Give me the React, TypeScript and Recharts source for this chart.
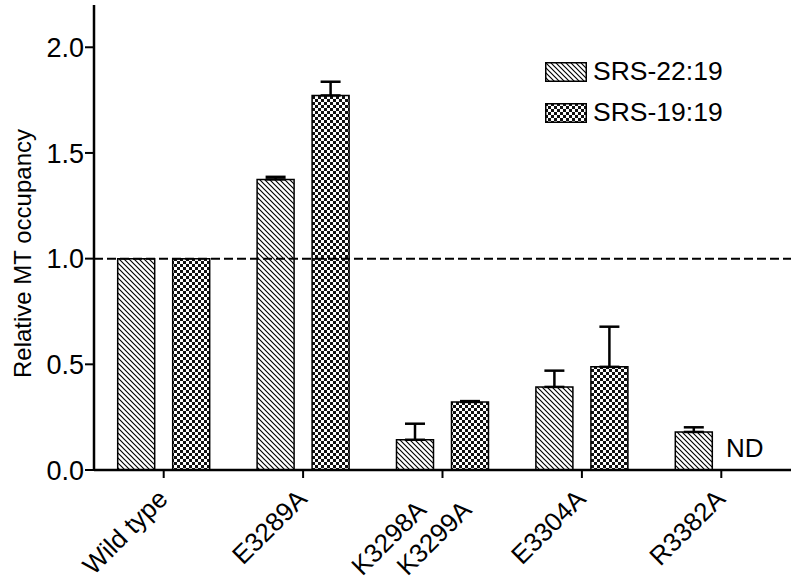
import React from 'react';
import { BarChart, Bar, XAxis, YAxis, ReferenceLine, ErrorBar, LabelList } from 'recharts';

const categories = ['Wild type', 'E3289A', 'K3298A\nK3299A', 'E3304A', 'R3382A'];
const srs2219 = [1.0, 1.375, 0.143, 0.393, 0.18];
const srs2219Err = [0, 0.012, 0.076, 0.077, 0.022];
const srs1919 = [1.0, 1.772, 0.322, 0.488, 0];
const srs1919Err = [0, 0.065, 0.004, 0.19, 0];
const notes = ['', '', '', '', 'ND'];
const yTicks = [0, 0.5, 1.0, 1.5, 2.0];
const seriesNames = ['SRS-22:19', 'SRS-19:19'];

const data = categories.map((c, i) => ({
  name: c,
  a: srs2219[i],
  aErr: srs2219Err[i] ? [0, srs2219Err[i]] : undefined,
  b: srs1919[i],
  bErr: srs1919Err[i] ? [0, srs1919Err[i]] : undefined,
  note: notes[i],
}));

const FONT = 'Liberation Sans, Arial, sans-serif';
const BAR_GAP = 18;

const Patterns = ({ prefix }: { prefix: string }) => (
  <defs>
    <pattern id={`${prefix}hatch`} patternUnits="userSpaceOnUse" width="5" height="5">
      <rect width="5" height="5" fill="#fff" />
      <path d="M-1,-1 L6,6 M-1,4 L1,6 M4,-1 L6,1" stroke="#000" strokeWidth="1.15" />
    </pattern>
    <pattern id={`${prefix}check`} patternUnits="userSpaceOnUse" width="6" height="6">
      <rect width="6" height="6" fill="#fff" />
      <rect x="0" y="0" width="3" height="3" fill="#111" />
      <rect x="3" y="3" width="3" height="3" fill="#111" />
    </pattern>
  </defs>
);

const XTick = (props: any) => {
  const { x, y, payload } = props;
  const lines = String(payload.value).split('\n');
  const n = lines.length;
  return (
    <g transform={`translate(${x - 1},${y + 14})`}>
      <text transform="rotate(-45)" textAnchor="end" fontFamily={FONT} fontSize={26} fill="#000">
        {lines.map((l, i) => {
          const k = n === 1 ? 0 : i - 0.5;
          return (
            <tspan key={i} x={k * 32 - (n === 1 ? 0 : 6)} y={k * 32 + (n === 1 ? 0 : 9.5)} dy="0.35em">{l}</tspan>
          );
        })}
      </text>
    </g>
  );
};

const YTitle = (props: any) => {
  const { viewBox } = props;
  const cx = viewBox.x + 22;
  const cy = viewBox.y + viewBox.height / 2 + 16;
  return (
    <text x={cx} y={cy} transform={`rotate(-90, ${cx}, ${cy})`} textAnchor="middle" dominantBaseline="central" fontFamily={FONT} fontSize={24} fill="#000">
      Relative MT occupancy
    </text>
  );
};

const LegendBox = () => (
  <div style={{ position: 'absolute', left: 545, top: 51, fontFamily: FONT, fontSize: 26.5, color: '#000' }}>
    {seriesNames.map((s, i) => (
      <div key={s} style={{ display: 'flex', alignItems: 'center', height: 41 }}>
        <svg width={42} height={20} style={{ marginRight: 6 }}>
          <Patterns prefix="lg" />
          <rect x={0.75} y={0.75} width={40.5} height={18.5} fill={`url(#lg${i === 0 ? 'hatch' : 'check'})`} stroke="#000" strokeWidth={1.5} />
        </svg>
        <span>{s}</span>
      </div>
    ))}
  </div>
);

// "ND" is drawn in the slot of the missing SRS-19:19 bar, next to the SRS-22:19 bar
const NDLabel = (props: any) => {
  const { x, width, value } = props;
  if (!value) return null;
  return (
    <text x={x + width + BAR_GAP + width / 2 - 4} y={457} textAnchor="middle" fontFamily={FONT} fontSize={26} fill="#000">{value}</text>
  );
};

export default function App() {
  return (
    <div style={{ position: 'absolute', left: 0, top: 0, width: 800, height: 584, background: '#fff' }}>
      <BarChart
        width={800}
        height={584}
        data={data}
        margin={{ top: 5, right: 9, left: 0, bottom: 0 }}
        barCategoryGap="17%"
        barGap={BAR_GAP}
      >
        <Patterns prefix="c" />
        <XAxis
          dataKey="name"
          interval={0}
          height={114}
          tick={<XTick />}
          tickSize={8}
          axisLine={{ stroke: '#000', strokeWidth: 2.5 }}
          tickLine={{ stroke: '#000', strokeWidth: 2 }}
        />
        <YAxis
          domain={[0, 2.2]}
          ticks={yTicks}
          width={94}
          tickSize={9}
          tickMargin={1}
          tickFormatter={(v: number) => v.toFixed(1)}
          tick={{ fill: '#000', fontSize: 27, fontFamily: FONT }}
          axisLine={{ stroke: '#000', strokeWidth: 2.5 }}
          tickLine={{ stroke: '#000', strokeWidth: 2 }}
          label={<YTitle />}
        />
        <ReferenceLine y={1} stroke="#000" strokeWidth={2} strokeDasharray="9 4" />
        <Bar dataKey="a" name={seriesNames[0]} fill="url(#chatch)" stroke="#000" strokeWidth={1.5} isAnimationActive={false}>
          <ErrorBar dataKey="aErr" width={10} stroke="#000" strokeWidth={2.5} direction="y" />
          <LabelList dataKey="note" content={<NDLabel />} />
        </Bar>
        <Bar dataKey="b" name={seriesNames[1]} fill="url(#ccheck)" stroke="#000" strokeWidth={1.5} isAnimationActive={false}>
          <ErrorBar dataKey="bErr" width={10} stroke="#000" strokeWidth={2.5} direction="y" />
        </Bar>
      </BarChart>
      <LegendBox />
    </div>
  );
}
